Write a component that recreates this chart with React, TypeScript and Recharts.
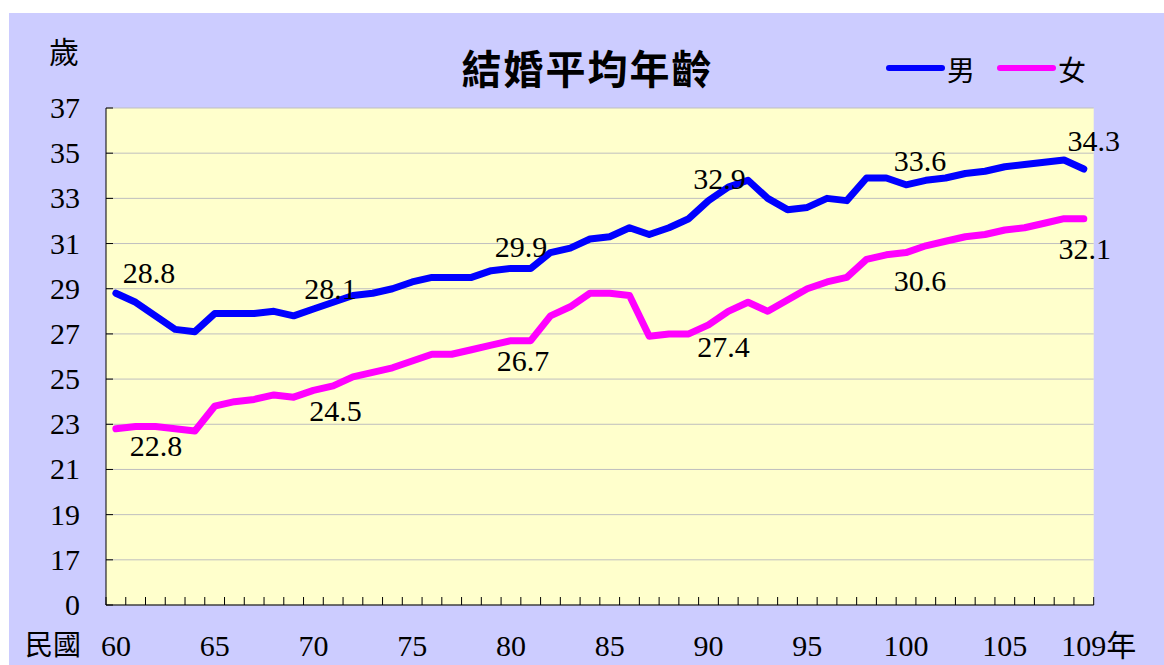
import React from "react";
import { LineChart, Line, XAxis, YAxis, CartesianGrid } from "recharts";

// 民國 60 - 109
const years = [
  60, 61, 62, 63, 64, 65, 66, 67, 68, 69,
  70, 71, 72, 73, 74, 75, 76, 77, 78, 79,
  80, 81, 82, 83, 84, 85, 86, 87, 88, 89,
  90, 91, 92, 93, 94, 95, 96, 97, 98, 99,
  100, 101, 102, 103, 104, 105, 106, 107, 108, 109,
];

const male = [
  28.8, 28.4, 27.8, 27.2, 27.1, 27.9, 27.9, 27.9, 28.0, 27.8,
  28.1, 28.4, 28.7, 28.8, 29.0, 29.3, 29.5, 29.5, 29.5, 29.8,
  29.9, 29.9, 30.6, 30.8, 31.2, 31.3, 31.7, 31.4, 31.7, 32.1,
  32.9, 33.5, 33.8, 33.0, 32.5, 32.6, 33.0, 32.9, 33.9, 33.9,
  33.6, 33.8, 33.9, 34.1, 34.2, 34.4, 34.5, 34.6, 34.7, 34.3,
];

const female = [
  22.8, 22.9, 22.9, 22.8, 22.7, 23.8, 24.0, 24.1, 24.3, 24.2,
  24.5, 24.7, 25.1, 25.3, 25.5, 25.8, 26.1, 26.1, 26.3, 26.5,
  26.7, 26.7, 27.8, 28.2, 28.8, 28.8, 28.7, 26.9, 27.0, 27.0,
  27.4, 28.0, 28.4, 28.0, 28.5, 29.0, 29.3, 29.5, 30.3, 30.5,
  30.6, 30.9, 31.1, 31.3, 31.4, 31.6, 31.7, 31.9, 32.1, 32.1,
];

// the bottom tick (15) is shown as 0, the axis is broken
const yTicks = [15, 17, 19, 21, 23, 25, 27, 29, 31, 33, 35, 37];
const labeledYears = [60, 70, 80, 90, 100, 109];

const data = years.map((year, i) => ({ year, male: male[i], female: female[i] }));

const W = 1155;
const H = 652;
const AXIS_W = 97;
const RIGHT = 70.3;
const TOP = 95;
const X_H = 60;
const half = (W - AXIS_W - RIGHT) / years.length / 2;

const NUM_FONT = '"Liberation Serif", "DejaVu Serif", "Times New Roman", serif';
const CJK_FONT = '"Noto Sans CJK TC", "Noto Sans CJK SC", sans-serif';
const MIX_FONT = '"Liberation Serif", "Noto Sans CJK TC", serif';

// label offsets from the point to the label centre
const maleOffset: Record<number, [number, number]> = {
  60: [33, -20], 70: [17, -20], 80: [10, -21], 90: [11, -22], 100: [14, -24], 109: [10, -28],
};
const femaleOffset: Record<number, [number, number]> = {
  60: [40, 17], 70: [22, 21], 80: [12, 20], 90: [15, 22], 100: [14, 28], 109: [1, 30],
};

const numStyle: React.CSSProperties = { fontFamily: NUM_FONT, fontSize: 30 };

const XTick = (props: any) => {
  const { x, y, payload } = props;
  const yr = Number(payload.value);
  const last = yr === years[years.length - 1];
  return (
    <g>
      <line x1={x - half} x2={x - half} y1={y} y2={y - 8} stroke="#000" />
      {last && <line x1={x + half} x2={x + half} y1={y} y2={y - 8} stroke="#000" />}
      {last ? (
        <text x={x - 22.5} y={y + 51} style={{ ...numStyle, fontFamily: MIX_FONT }} fill="#000">
          {yr}年
        </text>
      ) : yr % 5 === 0 ? (
        <text x={x} y={y + 51} textAnchor="middle" style={numStyle} fill="#000">
          {yr}
        </text>
      ) : null}
    </g>
  );
};

const YTick = (props: any) => {
  const { x, y, payload } = props;
  const v = Number(payload.value);
  return (
    <g>
      <line x1={x} x2={x + 7} y1={y} y2={y} stroke="#000" />
      <text x={x - 26} y={y} dy={10} textAnchor="end" style={numStyle} fill="#000">
        {v === 15 ? 0 : v}
      </text>
    </g>
  );
};

const makeLabel = (offsets: Record<number, [number, number]>) => (props: any) => {
  const { x, y, index, value } = props;
  const yr = years[index];
  if (!labeledYears.includes(yr)) return null;
  const [dx, dy] = offsets[yr];
  return (
    <text
      key={`l-${index}`}
      x={x + dx}
      y={y + dy}
      dy={10}
      textAnchor="middle"
      style={numStyle}
      fill="#000"
    >
      {Number(value).toFixed(1)}
    </text>
  );
};

const abs = (style: React.CSSProperties): React.CSSProperties => ({
  position: "absolute",
  lineHeight: 1,
  whiteSpace: "nowrap",
  ...style,
});

export default function App() {
  return (
    <div
      style={{
        position: "absolute",
        left: 9,
        top: 13,
        width: W,
        height: H,
        background: "#CCCCFF",
        overflow: "hidden",
      }}
    >
      <LineChart
        width={W}
        height={H}
        data={data}
        margin={{ top: TOP, right: RIGHT, left: 0, bottom: 0 }}
      >
        <CartesianGrid horizontal vertical={false} stroke="#BFBFBF" fill="#FFFFCC" />
        <XAxis
          dataKey="year"
          type="category"
          interval={0}
          height={X_H}
          padding={{ left: half, right: half }}
          tickLine={false}
          tickSize={0}
          tickMargin={0}
          axisLine={{ stroke: "#000" }}
          tick={<XTick />}
        />
        <YAxis
          type="number"
          domain={[15, 37]}
          ticks={yTicks}
          interval={0}
          width={AXIS_W}
          tickLine={false}
          tickSize={0}
          tickMargin={0}
          axisLine={{ stroke: "#000" }}
          tick={<YTick />}
        />
        <Line
          dataKey="male"
          stroke="#0000FF"
          strokeWidth={7}
          strokeLinejoin="round"
          strokeLinecap="round"
          dot={false}
          isAnimationActive={false}
          label={makeLabel(maleOffset)}
        />
        <Line
          dataKey="female"
          stroke="#FF00FF"
          strokeWidth={7}
          strokeLinejoin="round"
          strokeLinecap="round"
          dot={false}
          isAnimationActive={false}
          label={makeLabel(femaleOffset)}
        />
      </LineChart>

      <div style={abs({ left: 40, top: 22, fontSize: 30, fontFamily: CJK_FONT })}>歲</div>
      <div
        style={abs({
          left: 0,
          width: W,
          top: 34,
          textAlign: "center",
          fontSize: 40,
          fontWeight: 700,
          letterSpacing: 2,
          paddingLeft: 2,
          boxSizing: "border-box",
          fontFamily: CJK_FONT,
        })}
      >
        結婚平均年齡
      </div>
      <div style={abs({ left: 877, top: 51.7, width: 59, height: 6, borderRadius: 3, background: "#0000FF" })} />
      <div style={abs({ left: 938, top: 42, fontSize: 28, fontFamily: CJK_FONT })}>男</div>
      <div style={abs({ left: 988, top: 51.7, width: 59, height: 6, borderRadius: 3, background: "#FF00FF" })} />
      <div style={abs({ left: 1049, top: 42, fontSize: 28, fontFamily: CJK_FONT })}>女</div>
      <div style={abs({ left: 16, top: 616, fontSize: 28, fontFamily: CJK_FONT })}>民國</div>
    </div>
  );
}
